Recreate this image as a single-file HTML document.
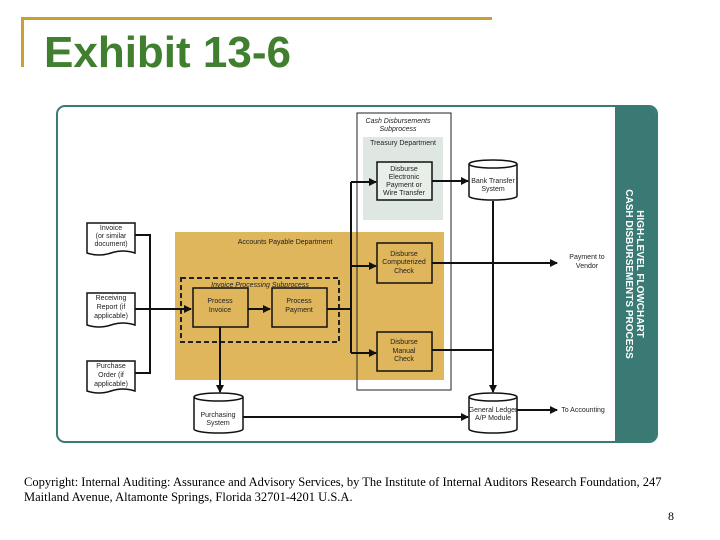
<!DOCTYPE html>
<html><head><meta charset="utf-8"><style>
html,body{margin:0;padding:0;background:#fff;width:720px;height:540px;overflow:hidden;position:relative}
.t{position:absolute;left:44px;top:28px;font:bold 44px "Liberation Sans",sans-serif;color:#3f7f2f;}
.f{position:absolute;left:24px;top:475px;font:12.5px/15px "Liberation Serif",serif;color:#000;width:640px}
.n{position:absolute;left:668px;top:509px;font:12px "Liberation Serif",serif}
</style></head><body>
<div style="position:absolute;left:21px;top:17px;width:471px;height:3px;background:#c9a22e"></div>
<div style="position:absolute;left:21px;top:17px;width:3px;height:50px;background:#c9a22e"></div>
<div class="t">Exhibit 13-6</div>
<svg width="720" height="540" style="position:absolute;left:0;top:0" font-family="Liberation Sans, sans-serif">
<defs><marker id="a" markerWidth="8" markerHeight="8" refX="7" refY="4" orient="auto" markerUnits="userSpaceOnUse"><path d="M0,0 L8,4 L0,8z" fill="#111"/></marker></defs>
<rect x="57" y="106" width="600" height="336" rx="8" fill="#fff" stroke="#3a7a74" stroke-width="2"/>
<path d="M615,107 H649 Q656,107 656,114 V434 Q656,441 649,441 H615z" fill="#3a7a74"/>
<text transform="translate(637,274) rotate(90)" text-anchor="middle" fill="#fff" font-weight="bold" font-size="10">HIGH-LEVEL FLOWCHART</text>
<text transform="translate(626,274) rotate(90)" text-anchor="middle" fill="#fff" font-weight="bold" font-size="10">CASH DISBURSEMENTS PROCESS</text>
<rect x="175" y="232" width="269" height="148" fill="#e0b65c"/>
<rect x="357" y="113" width="94" height="277" fill="none" stroke="#222" stroke-width="1"/>
<rect x="363" y="137" width="80" height="83" fill="#dfe7e2"/>
<rect x="181" y="278" width="158" height="64" fill="none" stroke="#222" stroke-width="2" stroke-dasharray="5,3"/>
<g fill="none" stroke="#111" stroke-width="1.5">
<rect x="377" y="162" width="55" height="38" fill="#e8efe9"/>
<rect x="377" y="243" width="55" height="40" fill="#e0b65c"/>
<rect x="377" y="332" width="55" height="39" fill="#e0b65c"/>
<rect x="193" y="288" width="55" height="39" fill="#e0b65c"/>
<rect x="272" y="288" width="55" height="39" fill="#e0b65c"/>
<path d="M469,164 V196 A24,4 0 0 0 517,196 V164 A24,4 0 0 0 469,164 A24,4 0 0 0 517,164" fill="#fff"/>
<path d="M469,397 V429 A24,4 0 0 0 517,429 V397 A24,4 0 0 0 469,397 A24,4 0 0 0 517,397" fill="#fff"/>
<path d="M194,397 V429 A24.5,4 0 0 0 243,429 V397 A24.5,4 0 0 0 194,397 A24.5,4 0 0 0 243,397" fill="#fff"/>
<path d="M87,223 H135 V253 Q123,249 111,253 Q99,257 87,253z" fill="#fff"/>
<path d="M87,293 H135 V325 Q123,321 111,325 Q99,329 87,325z" fill="#fff"/>
<path d="M87,361 H135 V391 Q123,387 111,391 Q99,395 87,391z" fill="#fff"/>
</g>
<g fill="none" stroke="#111" stroke-width="2">
<path d="M135,235 H150 V373 H135"/>
<path d="M135,309 H191" marker-end="url(#a)"/>
<path d="M248,309 H270" marker-end="url(#a)"/>
<path d="M220,327 V392" marker-end="url(#a)"/>
<path d="M327,309 H351"/>
<path d="M351,182 V353"/>
<path d="M351,182 H376" marker-end="url(#a)"/>
<path d="M351,266 H376" marker-end="url(#a)"/>
<path d="M351,353 H376" marker-end="url(#a)"/>
<path d="M432,181 H468" marker-end="url(#a)"/>
<path d="M432,263 H557" marker-end="url(#a)"/>
<path d="M432,350 H493"/>
<path d="M493,201 V392" marker-end="url(#a)"/>
<path d="M243,417 H468" marker-end="url(#a)"/>
<path d="M517,410 H557" marker-end="url(#a)"/>
</g>
<g font-size="7" fill="#222" text-anchor="middle">
<text x="398" y="123" font-style="italic">Cash Disbursements</text><text x="398" y="131" font-style="italic">Subprocess</text>
<text x="403" y="145">Treasury Department</text>
<text x="404" y="171">Disburse</text><text x="404" y="179">Electronic</text><text x="404" y="187">Payment or</text><text x="404" y="195">Wire Transfer</text>
<text x="493" y="183">Bank Transfer</text><text x="493" y="191">System</text>
<text x="404" y="256">Disburse</text><text x="404" y="264">Computerized</text><text x="404" y="273">Check</text>
<text x="404" y="344">Disburse</text><text x="404" y="353">Manual</text><text x="404" y="361">Check</text>
<text x="493" y="412">General Ledger</text><text x="493" y="420">A/P Module</text>
<text x="587" y="259">Payment to</text><text x="587" y="268">Vendor</text>
<text x="583" y="412">To Accounting</text>
<text x="285" y="244">Accounts Payable Department</text>
<text x="260" y="287" font-style="italic">Invoice Processing Subprocess</text>
<text x="220" y="303">Process</text><text x="220" y="312">Invoice</text>
<text x="299" y="303">Process</text><text x="299" y="312">Payment</text>
<text x="218" y="417">Purchasing</text><text x="218" y="425">System</text>
<text x="111" y="230">Invoice</text><text x="111" y="238">(or similar</text><text x="111" y="246">document)</text>
<text x="111" y="300">Receiving</text><text x="111" y="309">Report (if</text><text x="111" y="318">applicable)</text>
<text x="111" y="368">Purchase</text><text x="111" y="377">Order (if</text><text x="111" y="386">applicable)</text>
</g>
</svg>
<div class="f">Copyright: Internal Auditing: Assurance and Advisory Services, by The Institute of Internal Auditors Research Foundation, 247 Maitland Avenue, Altamonte Springs, Florida 32701-4201 U.S.A.</div>
<div class="n">8</div>
</body></html>
